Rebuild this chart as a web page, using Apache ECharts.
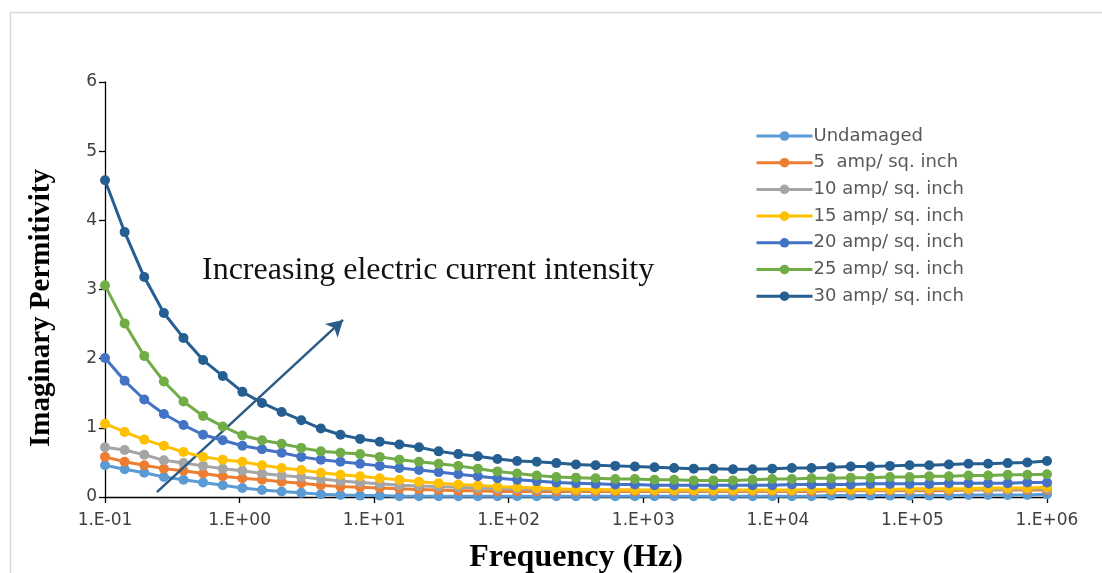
<!DOCTYPE html>
<html>
<head>
<meta charset="utf-8">
<script src="https://cdn.jsdelivr.net/npm/echarts@6/dist/echarts.min.js"></script>
<style>
html,body{margin:0;padding:0;background:#fff;}
#chart{width:1102px;height:573px;}
</style>
</head>
<body>
<div id="chart"></div>
<script>
// Frequency grid (Hz), log-spaced from 0.1 Hz to 1 MHz
const freq = [0.1, 0.1399, 0.1957, 0.2738, 0.3831, 0.5358, 0.7499, 1.049, 1.468, 2.054,
  2.873, 4.019, 5.623, 7.867, 11.01, 15.40, 21.54, 30.14, 42.17, 58.99,
  82.54, 115.5, 161.6, 226.0, 316.2, 442.4, 618.9, 866.0, 1212, 1695,
  2371, 3318, 4642, 6494, 9085, 12710, 17783, 24880, 34807, 48697,
  68129, 95316, 133352, 186580, 261016, 365170, 510890, 714770, 1000000];

const seriesNames = ['Undamaged', '5  amp/ sq. inch', '10 amp/ sq. inch', '15 amp/ sq. inch',
  '20 amp/ sq. inch', '25 amp/ sq. inch', '30 amp/ sq. inch'];

const undamaged = [0.46, 0.40, 0.35, 0.29, 0.25, 0.21, 0.17, 0.13, 0.10, 0.08,
  0.06, 0.04, 0.03, 0.02, 0.02, 0.01, 0.01, 0.01, 0.01, 0.01,
  0.01, 0.01, 0.01, 0.01, 0.01, 0.01, 0.01, 0.01, 0.01, 0.01,
  0.01, 0.01, 0.01, 0.01, 0.01, 0.01, 0.01, 0.02, 0.02, 0.02,
  0.02, 0.02, 0.02, 0.02, 0.03, 0.03, 0.03, 0.03, 0.04];
const amp5 = [0.58, 0.51, 0.46, 0.41, 0.38, 0.34, 0.30, 0.27, 0.25, 0.22,
  0.20, 0.17, 0.15, 0.14, 0.13, 0.12, 0.11, 0.10, 0.09, 0.09,
  0.08, 0.08, 0.08, 0.08, 0.08, 0.08, 0.08, 0.08, 0.08, 0.08,
  0.08, 0.08, 0.08, 0.08, 0.08, 0.08, 0.08, 0.09, 0.09, 0.09,
  0.09, 0.09, 0.09, 0.09, 0.10, 0.10, 0.10, 0.10, 0.10];
const amp10 = [0.72, 0.68, 0.61, 0.53, 0.49, 0.45, 0.41, 0.38, 0.34, 0.31,
  0.29, 0.26, 0.23, 0.21, 0.19, 0.17, 0.16, 0.15, 0.14, 0.13,
  0.12, 0.12, 0.11, 0.11, 0.10, 0.10, 0.10, 0.10, 0.09, 0.09,
  0.09, 0.09, 0.09, 0.09, 0.09, 0.09, 0.10, 0.10, 0.10, 0.10,
  0.10, 0.10, 0.11, 0.11, 0.11, 0.11, 0.11, 0.12, 0.12];
const amp15 = [1.06, 0.94, 0.83, 0.74, 0.65, 0.58, 0.54, 0.51, 0.46, 0.42,
  0.39, 0.35, 0.32, 0.30, 0.27, 0.25, 0.22, 0.20, 0.18, 0.17,
  0.15, 0.14, 0.13, 0.12, 0.11, 0.11, 0.10, 0.10, 0.10, 0.10,
  0.10, 0.10, 0.10, 0.10, 0.10, 0.10, 0.11, 0.11, 0.11, 0.11,
  0.11, 0.12, 0.12, 0.12, 0.12, 0.13, 0.13, 0.13, 0.14];
const amp20 = [2.01, 1.68, 1.41, 1.20, 1.04, 0.90, 0.82, 0.74, 0.69, 0.64,
  0.58, 0.54, 0.51, 0.48, 0.45, 0.42, 0.39, 0.36, 0.33, 0.30,
  0.27, 0.25, 0.23, 0.21, 0.20, 0.19, 0.18, 0.18, 0.17, 0.17,
  0.17, 0.17, 0.17, 0.17, 0.17, 0.18, 0.18, 0.18, 0.18, 0.19,
  0.19, 0.19, 0.19, 0.20, 0.20, 0.20, 0.20, 0.21, 0.21];
const amp25 = [3.06, 2.51, 2.04, 1.67, 1.38, 1.17, 1.02, 0.89, 0.82, 0.77,
  0.71, 0.66, 0.64, 0.62, 0.58, 0.54, 0.51, 0.48, 0.45, 0.41,
  0.37, 0.34, 0.31, 0.29, 0.28, 0.27, 0.26, 0.26, 0.25, 0.25,
  0.24, 0.24, 0.24, 0.25, 0.26, 0.26, 0.27, 0.27, 0.28, 0.28,
  0.29, 0.29, 0.30, 0.30, 0.31, 0.31, 0.32, 0.32, 0.33];
const amp30 = [4.58, 3.83, 3.18, 2.66, 2.30, 1.98, 1.75, 1.52, 1.36, 1.23,
  1.11, 0.99, 0.90, 0.84, 0.80, 0.76, 0.72, 0.66, 0.62, 0.59,
  0.55, 0.52, 0.51, 0.49, 0.47, 0.46, 0.45, 0.44, 0.43, 0.42,
  0.41, 0.41, 0.40, 0.40, 0.41, 0.42, 0.42, 0.43, 0.44, 0.44,
  0.45, 0.46, 0.46, 0.47, 0.48, 0.48, 0.49, 0.50, 0.52];

const allValues = [undamaged, amp5, amp10, amp15, amp20, amp25, amp30];
const colors = ['#5B9BD5', '#ED7D31', '#A5A5A5', '#FFC000', '#4472C4', '#70AD47', '#255E91'];

// Annotation arrow endpoints in data space (frequency, permittivity)
const arrowStart = [0.243, 0.07];
const arrowEnd = [5.87, 2.56];
const annotationText = 'Increasing electric current intensity';
const yTitle = 'Imaginary Permitivity';
const xTitle = 'Frequency (Hz)';

const yTicks = {min: 0, max: 6, interval: 1};

function fmtExp(v) {
  const e = Math.round(Math.log10(v));
  const s = e < 0 ? '-' : '+';
  const a = Math.abs(e);
  return '1.E' + s + (a < 10 ? '0' + a : '' + a);
}

const series = allValues.map((vals, i) => ({
  name: seriesNames[i],
  type: 'line',
  data: freq.map((f, j) => [f, vals[j]]),
  symbol: 'circle',
  symbolSize: 10,
  lineStyle: {width: 3, color: colors[i]},
  itemStyle: {color: colors[i]},
  z: 2 + i,
  animation: false
}));

series.push({
  name: 'arrow',
  type: 'line',
  data: [],
  silent: true,
  markLine: {
    silent: true,
    symbol: ['none', 'arrow'],
    symbolSize: [14, 16],
    label: {show: false},
    lineStyle: {color: '#2A5B85', width: 2.5, type: 'solid'},
    data: [[{coord: arrowStart}, {coord: arrowEnd}]],
    animation: false
  }
});

const chart = echarts.init(document.getElementById('chart'));
chart.setOption({
  animation: false,
  backgroundColor: '#fff',
  color: colors,
  grid: {left: 105, right: 55, top: 82, bottom: 76, containLabel: false, outerBoundsMode: 'none'},
  xAxis: {
    type: 'log',
    logBase: 10,
    min: 0.1,
    max: 1000000,
    name: xTitle,
    nameLocation: 'middle',
    nameGap: 45,
    nameTextStyle: {fontFamily: 'Liberation Serif', fontWeight: 'bold', fontSize: 32, color: '#000'},
    axisLine: {show: true, lineStyle: {color: '#000', width: 1.3}},
    axisTick: {show: true, inside: false, length: 6, lineStyle: {color: '#000', width: 1.3}},
    minorTick: {show: false},
    splitLine: {show: false},
    axisLabel: {formatter: fmtExp, fontFamily: 'DejaVu Sans', fontSize: 17, color: '#404040', margin: 15}
  },
  yAxis: {
    type: 'value',
    min: yTicks.min,
    max: yTicks.max,
    interval: yTicks.interval,
    axisLine: {show: true, lineStyle: {color: '#000', width: 1.3}},
    axisTick: {show: true, inside: false, length: 6, lineStyle: {color: '#000', width: 1.3}},
    splitLine: {show: false},
    axisLabel: {fontFamily: 'DejaVu Sans', fontSize: 17, color: '#404040', margin: 8}
  },
  legend: {
    orient: 'vertical',
    left: 750,
    top: 122,
    itemWidth: 56,
    itemHeight: 12,
    itemGap: 8.7,
    itemStyle: {borderWidth: 0},
    lineStyle: {width: 3},
    data: seriesNames,
    textStyle: {fontFamily: 'DejaVu Sans', fontSize: 18, color: '#595959', padding: [0, 0, 0, -4]}
  },
  graphic: [
    {type: 'rect', left: 8, top: 10, shape: {width: 1110, height: 580}, style: {fill: 'none', stroke: '#D9D9D9', lineWidth: 1.5}, silent: true, z: -10},
    {type: 'text', left: 202, top: 255, style: {text: annotationText, font: '32px "Liberation Serif"', fill: '#111'}, z: 10},
    {type: 'text', x: 42, y: 308, rotation: Math.PI / 2, style: {text: yTitle, font: 'bold 29px "Liberation Serif"', fill: '#000', align: 'center', verticalAlign: 'middle'}, z: 10}
  ],
  series: series
});
</script>
</body>
</html>
